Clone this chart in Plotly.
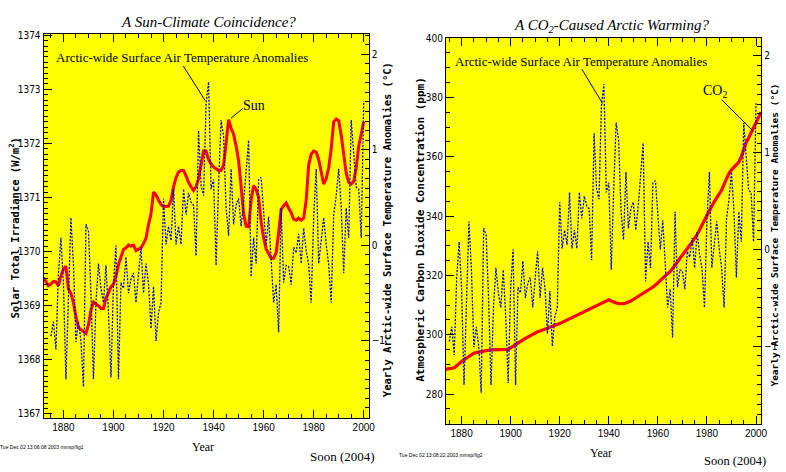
import plotly.graph_objects as go

# ---------------- data ----------------
temp_years = list(range(1875, 2001))
temp_anom = [
    -0.95, -0.80, -1.09, -0.30, 0.08, -0.40, -1.40, -0.60, 0.29, -0.20,
    -1.01, -0.80, -1.00, -1.48, 0.22, 0.15, -0.50, -1.40, -0.60, -0.19,
    -0.45, -0.60, -0.21, -0.70, -1.38, -0.40, 0.00, -1.40, -0.39, -0.45,
    -0.12, -0.50, -0.35, -0.29, -0.60, -0.30, -0.02, -0.50, -0.19, -0.40,
    -0.87, -0.43, -1.00, -0.70, -0.60, 0.49, 0.01, 0.20, 0.05, 0.59,
    0.01, 0.20, 0.01, 0.59, 0.32, 0.55, 0.45, 0.42, -0.11, 1.20,
    0.63, 0.52, 1.48, 1.71, 0.59, 0.69, -0.21, 0.63, 1.31, 1.14,
    0.39, 0.10, 0.80, 0.22, 0.42, 0.49, 0.20, 0.45, 0.80, 1.10,
    -0.33, 0.08, -0.19, 0.69, 0.71, 0.30, 0.00, 0.30, -0.20, -0.60,
    -0.41, -0.91, 0.39, -0.39, -0.21, -0.22, -0.41, -0.02, -0.08, 0.12,
    -0.19, 0.18, -0.05, -0.20, -0.60, 0.30, 0.80, -0.19, 0.05, 0.29,
    0.01, -0.20, -0.60, 0.32, 0.52, 0.80, 0.40, -0.29, 0.39, 0.08,
    1.31, 0.90, 0.61, 0.59, 0.08, 1.51,
]

sun_years = list(range(1872, 2001))
sun_tsi = [
    1369.52, 1369.45, 1369.37, 1369.40, 1369.45, 1369.44, 1369.37, 1369.55, 1369.68, 1369.73,
    1369.31, 1369.23, 1369.05, 1368.80, 1368.60, 1368.56, 1368.52, 1368.49, 1368.65, 1368.92,
    1369.07, 1369.04, 1369.00, 1368.95, 1368.95, 1369.14, 1369.25, 1369.35, 1369.40, 1369.55,
    1369.76, 1369.92, 1370.04, 1370.07, 1370.12, 1370.10, 1370.12, 1370.02, 1370.04, 1370.07,
    1370.15, 1370.25, 1370.50, 1370.70, 1371.10, 1371.05, 1370.95, 1370.87, 1370.83, 1370.83,
    1370.84, 1370.95, 1371.20, 1371.37, 1371.47, 1371.50, 1371.50, 1371.40, 1371.28, 1371.20,
    1371.13, 1371.20, 1371.35, 1371.60, 1371.86, 1371.86, 1371.70, 1371.62, 1371.56, 1371.53,
    1371.50, 1371.50, 1371.60, 1372.00, 1372.44, 1372.28, 1372.17, 1371.95, 1371.68, 1371.20,
    1370.70, 1370.47, 1370.46, 1370.95, 1371.22, 1371.15, 1371.00, 1370.55, 1370.25, 1370.05,
    1369.95, 1369.88, 1369.88, 1369.98, 1370.35, 1370.78, 1370.85, 1370.90, 1370.80, 1370.72,
    1370.60, 1370.58, 1370.62, 1370.58, 1370.62, 1370.95, 1371.60, 1371.80, 1371.86, 1371.84,
    1371.70, 1371.48, 1371.25, 1371.35, 1371.55, 1371.90, 1372.40, 1372.45, 1372.42, 1372.15,
    1371.80, 1371.45, 1371.28, 1371.25, 1371.30, 1371.55, 1371.95, 1372.20, 1372.40,
]

co2_years = list(range(1873, 2003))
co2_ppm = [
    288.3, 288.4, 288.5, 288.7, 288.9, 289.6, 290.4, 291.0, 291.6, 292.2,
    292.8, 293.3, 293.8, 294.0, 294.2, 294.4, 294.6, 294.7, 294.8, 294.9,
    294.9, 295.0, 295.0, 295.0, 295.0, 295.0, 295.1, 295.6, 296.2, 296.8,
    297.3, 297.8, 298.3, 298.8, 299.3, 299.8, 300.3, 300.7, 301.0, 301.3,
    301.6, 301.9, 302.2, 302.5, 302.7, 303.0, 303.4, 303.8, 304.2, 304.6,
    305.0, 305.4, 305.8, 306.3, 306.7, 307.1, 307.4, 307.8, 308.2, 308.6,
    309.0, 309.4, 309.8, 310.3, 310.7, 311.2, 311.6, 311.8, 311.4, 311.0,
    310.7, 310.5, 310.4, 310.5, 310.7, 311.0, 311.4, 311.9, 312.4, 312.9,
    313.5, 314.0, 314.5, 315.0, 315.5, 316.1, 316.8, 317.6, 318.5, 319.3,
    320.0, 320.6, 321.3, 322.3, 323.4, 324.6, 325.8, 327.0, 328.1, 329.1,
    330.2, 331.3, 332.4, 333.8, 335.4, 337.1, 338.8, 340.4, 341.9, 343.4,
    344.9, 346.2, 347.4, 348.8, 350.8, 352.7, 354.4, 355.6, 356.5, 357.3,
    358.2, 360.0, 362.5, 364.8, 366.4, 368.0, 369.6, 371.3, 373.2, 375.0,
]

year_ticks = [1880, 1900, 1920, 1940, 1960, 1980, 2000]
sun_ticks = [1367, 1368, 1369, 1370, 1371, 1372, 1373, 1374]
co2_ticks = [280, 300, 320, 340, 360, 380, 400]
temp_ticks = [-1, 0, 1, 2]
temp_ticktext = ["\u22121", "0", "1", "2"]

# ---------------- figure ----------------
W, H = 786, 472
def px(x):
    return x / W
def py(y):
    return 1 - y / H

BLUE = "#0000ff"
RED = "#ff0000"
TICKFONT = dict(family="Liberation Sans Narrow, DejaVu Sans Condensed, Arial Narrow, sans-serif", size=10, color="black")
XTICKFONT = dict(family="Liberation Sans, Arial, sans-serif", size=10, color="black")

fig = go.Figure()

fig.add_trace(go.Scatter(x=temp_years, y=temp_anom, xaxis="x", yaxis="y2", mode="lines",
                         line=dict(color=BLUE, width=1.3, dash="2px,1.5px"), showlegend=False))
fig.add_trace(go.Scatter(x=sun_years, y=sun_tsi, xaxis="x", yaxis="y", mode="lines",
                         line=dict(color=RED, width=3), showlegend=False))
fig.add_trace(go.Scatter(x=temp_years, y=temp_anom, xaxis="x2", yaxis="y4", mode="lines",
                         line=dict(color=BLUE, width=1.3, dash="2px,1.5px"), showlegend=False))
fig.add_trace(go.Scatter(x=co2_years, y=co2_ppm, xaxis="x2", yaxis="y3", mode="lines",
                         line=dict(color=RED, width=3.2), showlegend=False))

def xaxis(domain, rng, anchor):
    return dict(domain=domain, range=rng, anchor=anchor, tickvals=year_ticks,
                ticks="inside", ticklen=8, tickcolor="black", tickwidth=1,
                minor=dict(dtick=5, tick0=1880, ticks="inside", ticklen=4, tickcolor="black", showgrid=False),
                showline=True, linecolor="black", linewidth=1, mirror="ticks",
                showgrid=False, zeroline=False, tickfont=XTICKFONT)

def yaxis(domain, rng, anchor, tickvals, ticktext=None, minor_dtick=0.1, side="left", overlaying=None):
    d = dict(domain=domain, range=rng, anchor=anchor, tickvals=tickvals,
             ticks="inside", ticklen=8, tickcolor="black", tickwidth=1,
             minor=dict(dtick=minor_dtick, ticks="inside", ticklen=4, tickcolor="black", showgrid=False),
             showline=True, linecolor="black", linewidth=1, side=side,
             showgrid=False, zeroline=False, tickfont=TICKFONT)
    if ticktext is not None:
        d["ticktext"] = ticktext
    if overlaying:
        d["overlaying"] = overlaying
    return d

dom_x1 = [px(44), px(372)]
dom_y1 = [py(419), py(29)]
dom_x2 = [px(450), px(768)]
dom_y2 = [py(425), py(33)]

fig.update_layout(
    width=W, height=H,
    margin=dict(l=0, r=0, t=0, b=0),
    paper_bgcolor="white",
    plot_bgcolor="#ffff00",
    showlegend=False,
    xaxis=xaxis(dom_x1, [1872.08, 2001.98], "y"),
    yaxis=yaxis(dom_y1, [1366.93, 1374.03], "x", sun_ticks, minor_dtick=0.1),
    yaxis2=yaxis(dom_y1, [-1.804, 2.216], "x", temp_ticks, temp_ticktext, 0.1, "right", "y"),
    xaxis2=xaxis(dom_x2, [1873.65, 2002.1], "y3"),
    yaxis3=yaxis(dom_y2, [270.04, 400.2], "x2", co2_ticks, minor_dtick=5),
    yaxis4=yaxis(dom_y2, [-1.80, 2.19], "x2", temp_ticks, temp_ticktext, 0.1, "right", "y3"),
)

SERIF = "Liberation Serif, DejaVu Serif, serif"
MONO = "DejaVu Sans Mono, Liberation Mono, monospace"

def ann(text, x, y, size, family=SERIF, angle=0, italic=False, bold=False):
    t = text
    if italic:
        t = "<i>" + t + "</i>"
    if bold:
        t = "<b>" + t + "</b>"
    fig.add_annotation(text=t, x=px(x), y=py(y), xref="paper", yref="paper",
                       xanchor="center", yanchor="middle", showarrow=False,
                       textangle=angle, font=dict(family=family, size=size, color="black"))

# titles
ann("A Sun-Climate Coincidence?", 210, 17, 15, italic=True)
ann("A CO<sub>2</sub>-Caused Arctic Warming?", 618, 21, 15, italic=True)

# axis titles
ann("Solar Total Irradiance (W/m<sup>2</sup>)", 14, 226, 10.5, MONO, -90, bold=True)
ann("Yearly Arctic-wide Surface Temperature Anomalies (\u00b0C)", 390, 228, 10.5, MONO, -90, bold=True)
ann("Atmospheric Carbon Dioxide Concentration (ppm)", 424, 228, 11, MONO, -90, bold=True)
ann("Yearly Arctic-wide Surface Temperature Anomalies (\u00b0C)", 781, 234, 9.5, MONO, -90, bold=True)

ann("Year", 205, 449, 12)
ann("Year", 606, 455, 12)
ann("Soon (2004)", 346, 458, 13)
ann("Soon (2004)", 742, 463, 12.5)
ann("Tue Dec 02 13:06:08 2003 mmsp/fig1", 42, 449, 5, "Liberation Sans, sans-serif")
ann("Tue Dec 02 13:08:22 2003 mmsp/fig2", 445, 457, 5, "Liberation Sans, sans-serif")

# in-plot labels
ann("Arctic-wide Surface Air Temperature Anomalies", 184, 53, 13)
ann("Arctic-wide Surface Air Temperature Anomalies", 586, 57, 13)
ann("Sun", 256, 102, 14)
ann("CO<sub>2</sub>", 721, 88, 14)

# pointer lines
for (x0, y0, x1, y1) in [(185, 62, 207, 97), (233, 115, 245, 105), (587, 65, 608, 100), (728, 96, 760, 128)]:
    fig.add_shape(type="line", xref="paper", yref="paper",
                  x0=px(x0), y0=py(y0), x1=px(x1), y1=py(y1),
                  line=dict(color="black", width=1))

fig.write_html("out.html", config={"displayModeBar": False},
               post_script="document.body.style.margin='0px';document.body.style.overflow='hidden';")
